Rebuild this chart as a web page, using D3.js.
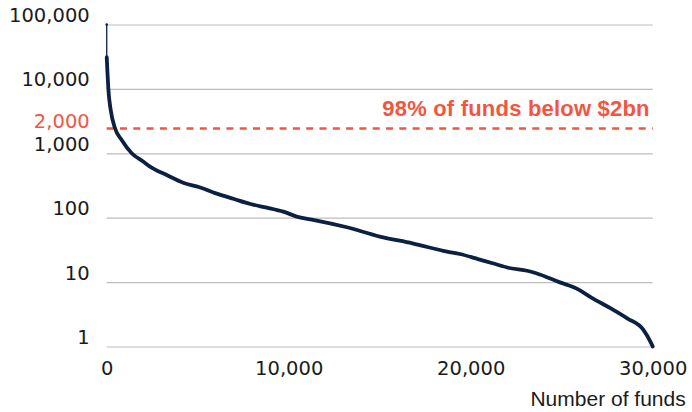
<!DOCTYPE html>
<html>
<head>
<meta charset="utf-8">
<script src="https://cdn.jsdelivr.net/npm/d3@7"></script>
<style>
  html, body { margin: 0; padding: 0; background: #fff; }
  svg { display: block; }
</style>
</head>
<body>
<div id="chart"></div>
<script>
// ---- Data ----
const fundRank = [0, 3, 35, 90, 220, 456, 824, 1374, 2000, 2400, 3300, 4200, 5100, 6000, 7000, 7900, 8800, 9700, 10600, 11400, 13200, 15000, 16800, 18700, 19400, 20400, 21200, 22200, 23100, 23600, 24900, 25800, 26700, 27700, 28600, 29500, 29900, 30000];
const fundSize = [100000, 31000, 19500, 10000, 4700, 2450, 1610, 1000, 745, 615, 460, 350, 297, 239, 195, 163, 143, 124, 101, 92, 71, 51, 40, 29.7, 27.3, 22.8, 19.6, 16.4, 15.0, 13.7, 9.9, 8.0, 5.6, 3.9, 2.74, 1.8, 1.15, 1.0];
const yTicks = [1, 10, 100, 1000, 10000, 100000];
const xTicks = [0, 10000, 20000, 30000];
const threshold = 2000;
const thresholdLabel = "98% of funds below $2bn";
const xTitle = "Number of funds";

// ---- Layout ----
const W = 692, H = 412;
const margin = { left: 106.7, right: 39.3, top: 24.5, bottom: 65.5 };
const iw = W - margin.left - margin.right;
const ih = H - margin.top - margin.bottom;
const RED = "#f4553f", NAVY = "#0c2142", GRID = "#bdbdbd", TEXT = "#1b1b1b";

const svg = d3.select("#chart").append("svg").attr("width", W).attr("height", H);
const g = svg.append("g").attr("transform", `translate(${margin.left},${margin.top})`);

const x = d3.scaleLinear().domain([0, 30000]).range([0, iw]);
const y = d3.scaleLog().domain([1, 100000]).range([ih, 0]);
const fmt = d3.format(",");

// Y axis with gridlines
const yAxis = g.append("g").call(
  d3.axisLeft(y).tickValues(yTicks).tickFormat(fmt).tickSize(-iw).tickPadding(17)
);
yAxis.select(".domain").remove();
yAxis.selectAll(".tick line").attr("stroke", GRID).attr("stroke-width", 1.2);
yAxis.selectAll(".tick text")
  .attr("dy", -3)
  .attr("fill", TEXT)
  .style("font-family", "'DejaVu Sans', sans-serif")
  .style("font-size", "19.5px");

// red 2,000 label
g.append("text")
  .attr("x", -17).attr("y", y(threshold)).attr("dy", -6.2)
  .attr("text-anchor", "end")
  .attr("fill", RED)
  .style("font-family", "'DejaVu Sans', sans-serif")
  .style("font-size", "19.5px")
  .text(fmt(threshold));

// X axis
const xAxis = g.append("g").attr("transform", `translate(0,${ih})`).call(
  d3.axisBottom(x).tickValues(xTicks).tickFormat(fmt).tickSize(0).tickPadding(14.5)
);
xAxis.select(".domain").remove();
xAxis.selectAll(".tick text")
  .attr("fill", TEXT)
  .style("font-family", "'DejaVu Sans', sans-serif")
  .style("font-size", "19.5px");

// X title
g.append("text")
  .attr("x", iw + 33).attr("y", ih + 59.5)
  .attr("text-anchor", "end")
  .attr("fill", TEXT)
  .style("font-family", "'Liberation Sans', Arial, sans-serif")
  .style("font-size", "21px")
  .text(xTitle);

// Threshold dashed line
g.append("line")
  .attr("x1", 0).attr("x2", iw)
  .attr("y1", y(threshold) - 5.4).attr("y2", y(threshold) - 5.4)
  .attr("stroke", RED).attr("stroke-width", 2.6)
  .attr("stroke-dasharray", "7,6.3");

g.append("text")
  .attr("x", iw - 3).attr("y", y(threshold) - 18)
  .attr("text-anchor", "end")
  .attr("fill", RED)
  .style("font-family", "'Liberation Sans', Arial, sans-serif")
  .style("font-weight", "bold")
  .style("font-size", "22px")
  .style("letter-spacing", "0.2px")
  .text(thresholdLabel);

// Data line
const pts = fundRank.map((r, i) => [r, fundSize[i]]);
const line = d3.line().x(d => x(d[0])).y(d => y(d[1])).curve(d3.curveMonotoneX);

// thin first segment (largest fund)
g.append("path")
  .datum(pts.slice(0, 2))
  .attr("d", d3.line().x(d => x(d[0])).y(d => y(d[1])))
  .attr("fill", "none").attr("stroke", NAVY).attr("stroke-width", 1.3);
g.append("circle").attr("cx", x(pts[0][0])).attr("cy", y(pts[0][1])).attr("r", 1.3).attr("fill", NAVY);

g.append("path")
  .datum(pts.slice(1))
  .attr("d", line)
  .attr("fill", "none").attr("stroke", NAVY).attr("stroke-width", 3.8)
  .attr("stroke-linejoin", "round").attr("stroke-linecap", "round");
</script>
</body>
</html>
